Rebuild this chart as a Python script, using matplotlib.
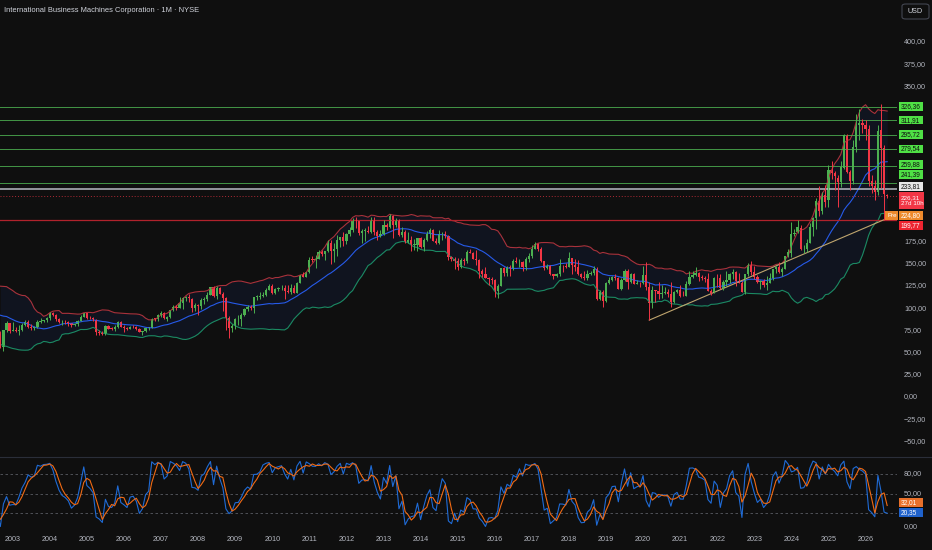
import matplotlib

matplotlib.use("Agg")
import matplotlib.pyplot as plt
from matplotlib.patches import FancyBboxPatch, Rectangle
import numpy as np
import pandas as pd

plt.rcParams["font.family"] = ["Liberation Sans", "DejaVu Sans"]

# IBM monthly bars, Feb 2001 .. Aug 2026 (the first 19 bars are warm-up, left of the view)
opens = [
    112.0, 99.9, 96.2, 115.1, 111.8, 113.0, 104.7, 99.95, 91.7, 108.1, 115.6,
    121.0, 107.9, 98.1, 104.0, 83.8, 80.5, 72.0, 70.4, 75.4, 58.5, 79.2, 87.0,
    78.0, 78.6, 77.8, 78.4, 84.5, 88.3, 82.5, 81.8, 82.4, 88.6, 89.6, 90.7,
    92.9, 99.3, 96.5, 92.0, 88.0, 88.6, 88.0, 87.0, 84.7, 85.7, 89.9, 94.2,
    98.6, 93.6, 92.6, 91.2, 76.5, 75.6, 74.5, 83.5, 80.6, 80.2, 81.9, 88.9,
    82.4, 81.0, 80.2, 82.6, 82.3, 79.9, 76.8, 77.4, 81.0, 81.8, 92.3, 91.9,
    97.2, 99.2, 92.3, 94.3, 102.1, 106.6, 105.3, 110.6, 116.8, 117.9, 116.0, 105.2,
    108.9, 107.1, 113.9, 115.1, 120.7, 129.4, 118.5, 128.0, 121.7, 117.0, 93.0, 81.6,
    84.2, 91.7, 92.0, 96.9, 103.2, 106.3, 104.4, 117.9, 118.1, 119.6, 120.6, 126.4,
    130.9, 122.4, 127.2, 128.3, 129.0, 125.3, 123.5, 128.4, 123.1, 134.1, 143.6, 141.5,
    146.8, 162.0, 161.9, 163.1, 170.6, 168.9, 171.6, 181.9, 171.9, 174.9, 184.6, 188.0,
    183.9, 192.6, 196.7, 208.7, 207.1, 192.9, 195.6, 196.0, 194.9, 207.5, 194.5, 190.1,
    191.6, 203.1, 200.8, 213.3, 202.5, 208.0, 191.1, 195.0, 182.3, 185.2, 179.2, 179.7,
    187.6, 176.7, 185.2, 192.5, 196.5, 184.4, 181.3, 191.7, 192.3, 189.8, 164.4, 162.2,
    160.4, 153.3, 162.0, 160.5, 171.3, 169.7, 162.7, 162.0, 147.9, 145.0, 140.1, 139.4,
    137.6, 124.8, 131.0, 151.5, 145.9, 153.7, 151.8, 160.6, 158.9, 158.9, 153.7, 162.2,
    166.0, 174.5, 179.8, 174.1, 160.3, 152.6, 153.8, 144.7, 143.0, 145.1, 154.1, 154.0,
    153.4, 163.7, 155.8, 153.4, 145.0, 141.3, 139.7, 144.9, 146.5, 151.2, 115.4, 124.3,
    113.7, 134.4, 138.1, 141.1, 140.3, 127.0, 137.9, 148.2, 135.5, 145.4, 133.7, 134.5,
    134.0, 143.7, 130.2, 110.9, 125.6, 124.9, 120.8, 122.9, 123.3, 121.7, 111.7, 123.6,
    125.9, 119.1, 118.9, 133.3, 141.9, 143.7, 146.6, 141.0, 140.3, 138.9, 119.6, 117.1,
    133.7, 133.6, 122.5, 130.0, 132.2, 138.8, 141.2, 130.8, 128.5, 118.8, 138.3, 148.9,
    140.9, 134.7, 129.3, 131.1, 126.4, 128.6, 133.8, 144.2, 146.8, 140.3, 144.6, 158.6,
    162.0, 183.7, 185.5, 190.0, 166.5, 166.5, 173.5, 192.0, 201.9, 220.6, 210.0, 228.0,
    221.8, 255.7, 252.4, 247.0, 242.3, 258.5, 293.9, 253.0, 243.5, 282.0, 307.0, 308.6,
    306.0, 302.0, 243.0, 238.0, 231.0, 301.0, 280.05, 228.0,
]
highs = [
    118.6, 105.5, 117.2, 119.9, 118.0, 115.4, 108.6, 101.6, 111.0, 117.5, 124.7,
    126.4, 108.9, 107.0, 105.0, 86.8, 81.7, 76.5, 81.3, 78.0, 79.4, 89.0, 87.5,
    88.9, 82.0, 84.7, 87.3, 90.4, 90.4, 86.0, 83.3, 91.0, 92.9, 91.2, 93.9,
    100.4, 100.4, 97.5, 93.4, 91.0, 90.3, 89.6, 87.4, 86.7, 90.5, 96.5, 99.1,
    99.1, 94.9, 93.8, 91.8, 78.5, 77.7, 85.1, 85.0, 82.2, 84.3, 89.9, 89.9,
    85.0, 82.0, 84.0, 84.3, 83.7, 81.4, 78.2, 81.5, 82.6, 92.7, 93.2, 97.9,
    100.9, 100.2, 95.8, 102.7, 108.1, 108.0, 117.5, 117.4, 119.6, 121.5, 116.4, 111.0,
    109.0, 116.5, 118.3, 124.0, 130.0, 130.9, 130.9, 130.0, 124.0, 117.5, 96.0, 86.0,
    92.7, 96.4, 99.0, 104.4, 108.7, 108.0, 118.0, 120.0, 124.0, 124.3, 128.9, 132.9,
    132.9, 128.2, 130.0, 132.0, 132.5, 132.0, 132.9, 132.2, 135.9, 144.0, 147.5, 147.5,
    164.4, 166.3, 167.7, 173.5, 172.9, 172.0, 185.6, 185.3, 181.3, 190.5, 189.0, 194.9,
    193.0, 200.0, 210.7, 211.8, 208.0, 197.5, 199.7, 201.5, 211.8, 211.8, 196.3, 196.8,
    208.6, 205.2, 215.9, 214.9, 210.4, 210.2, 200.0, 196.3, 194.8, 190.0, 185.8, 187.9,
    188.8, 186.8, 195.6, 199.2, 198.4, 187.6, 196.4, 194.9, 196.2, 190.9, 166.0, 164.5,
    163.3, 163.6, 164.0, 173.8, 174.4, 171.1, 173.2, 162.6, 150.6, 152.9, 142.0, 141.4,
    139.0, 133.4, 152.0, 152.9, 154.0, 155.5, 162.9, 164.9, 162.8, 160.5, 164.4, 169.9,
    178.9, 182.8, 181.9, 176.3, 160.5, 157.2, 156.0, 145.0, 146.7, 162.5, 155.6, 158.5,
    171.1, 164.0, 162.1, 162.0, 146.1, 149.0, 149.3, 148.0, 154.4, 153.4, 125.5, 125.7,
    135.0, 140.9, 143.1, 145.4, 141.0, 139.9, 151.3, 151.0, 146.4, 146.0, 138.0, 135.8,
    154.9, 158.7, 136.0, 131.0, 126.6, 135.9, 132.2, 129.9, 127.0, 135.9, 125.3, 127.0,
    132.2, 124.5, 137.1, 148.7, 148.5, 152.8, 147.5, 143.4, 142.2, 146.0, 121.9, 134.9,
    138.8, 138.7, 131.5, 141.9, 139.8, 144.7, 141.9, 139.3, 130.9, 138.9, 150.5, 153.2,
    147.2, 137.4, 131.5, 132.5, 136.2, 139.5, 144.5, 147.7, 151.9, 146.1, 158.6, 166.3,
    196.9, 188.9, 199.2, 193.3, 171.1, 178.5, 196.3, 202.8, 224.1, 237.4, 230.4, 239.4,
    261.8, 265.7, 255.0, 250.4, 266.0, 296.2, 296.1, 256.0, 289.0, 319.4, 324.9, 313.0,
    312.0, 306.0, 250.0, 244.0, 306.0, 330.2, 284.0, 229.0,
]
lows = [
    99.0, 85.3, 90.6, 108.6, 104.0, 100.8, 99.4, 87.5, 90.8, 105.9, 113.0,
    99.4, 94.8, 96.3, 81.6, 76.7, 66.0, 62.4, 66.9, 58.1, 54.0, 76.2, 75.0,
    77.7, 76.4, 73.2, 78.1, 83.2, 81.0, 78.9, 78.6, 81.5, 86.8, 88.3, 88.6,
    90.8, 95.0, 90.0, 86.8, 85.1, 86.6, 83.4, 81.9, 83.4, 83.7, 89.0, 94.1,
    92.3, 91.6, 89.6, 72.5, 73.5, 73.5, 73.5, 79.9, 78.7, 78.2, 81.6, 81.9,
    76.8, 79.0, 79.8, 81.5, 79.4, 76.0, 72.7, 76.9, 79.5, 81.4, 89.1, 90.0,
    94.6, 92.3, 89.5, 93.6, 101.5, 102.5, 104.9, 104.2, 113.1, 112.0, 99.6, 101.7,
    97.0, 103.2, 109.6, 113.0, 120.5, 117.9, 114.9, 121.0, 101.6, 79.0, 69.5, 76.2,
    80.5, 85.0, 83.8, 95.3, 101.0, 102.9, 99.5, 114.5, 115.0, 118.0, 119.6, 126.0,
    121.1, 121.2, 125.3, 125.8, 116.0, 123.1, 121.5, 122.9, 123.0, 133.8, 141.0, 141.5,
    146.6, 159.0, 151.7, 162.7, 166.2, 161.9, 171.0, 157.1, 158.9, 166.7, 177.1, 177.9,
    180.0, 189.5, 195.0, 199.0, 190.9, 181.9, 184.0, 193.0, 193.8, 190.6, 184.8, 188.0,
    190.4, 196.4, 199.4, 187.7, 199.9, 189.7, 189.0, 181.3, 181.1, 172.6, 172.7, 172.0,
    175.6, 172.2, 183.3, 187.9, 183.6, 179.8, 180.0, 185.3, 187.9, 161.1, 160.4, 150.5,
    149.5, 151.6, 155.3, 158.0, 169.2, 162.1, 155.9, 140.6, 142.0, 139.9, 131.7, 133.5,
    118.0, 116.9, 130.4, 142.5, 142.6, 142.8, 149.6, 157.8, 153.0, 148.0, 150.0, 158.7,
    164.0, 174.5, 171.5, 159.6, 150.2, 150.8, 143.6, 139.1, 141.5, 143.0, 146.9, 151.7,
    153.3, 144.4, 148.5, 144.3, 139.9, 137.5, 137.5, 143.6, 143.3, 114.1, 114.5, 105.9,
    111.7, 133.4, 137.0, 137.5, 126.8, 126.4, 137.0, 127.2, 134.5, 132.6, 133.3, 129.9,
    133.0, 126.6, 90.6, 104.5, 111.8, 115.6, 116.9, 121.3, 118.0, 105.9, 111.2, 122.0,
    118.0, 118.5, 118.8, 131.7, 140.3, 143.0, 136.2, 138.4, 135.9, 124.6, 114.6, 116.9,
    124.2, 121.7, 120.7, 124.9, 128.4, 132.9, 125.1, 128.4, 118.6, 115.5, 136.0, 137.2,
    132.9, 128.9, 121.7, 124.0, 120.6, 128.0, 131.5, 139.2, 139.6, 135.9, 144.5, 158.0,
    157.9, 180.9, 185.2, 165.3, 162.6, 163.5, 173.2, 181.8, 189.8, 204.0, 206.6, 214.6,
    214.6, 245.3, 233.0, 214.5, 237.0, 257.0, 251.9, 233.4, 240.0, 276.0, 290.0, 298.0,
    289.0, 238.0, 230.0, 222.0, 228.0, 236.0, 199.77, 224.5,
]
closes = [
    99.9, 96.2, 115.1, 111.8, 113.0, 104.7, 99.95, 91.7, 108.1, 115.6, 121.0,
    107.9, 98.1, 104.0, 83.8, 80.5, 72.0, 70.4, 75.4, 58.3, 78.9, 86.9, 77.5,
    78.2, 78.0, 78.4, 84.9, 88.0, 82.5, 81.2, 82.0, 88.3, 89.5, 90.5, 92.7,
    99.2, 96.5, 91.8, 88.2, 88.6, 88.2, 87.1, 84.7, 85.7, 89.8, 94.2, 98.6,
    93.4, 92.6, 91.4, 76.4, 75.6, 74.2, 83.5, 80.6, 80.2, 81.9, 88.9, 82.2,
    81.3, 80.2, 82.5, 82.3, 79.9, 76.8, 77.4, 81.0, 81.9, 92.3, 91.9, 97.2,
    99.2, 93.0, 94.3, 102.2, 106.6, 105.3, 110.7, 116.7, 117.8, 116.1, 105.2, 108.1,
    107.1, 113.9, 115.1, 120.7, 129.4, 118.5, 128.0, 121.7, 117.0, 93.0, 81.6, 84.2,
    91.7, 92.0, 96.9, 103.2, 106.3, 104.4, 117.9, 118.1, 119.6, 120.6, 126.4, 130.9,
    122.4, 127.2, 128.3, 129.0, 125.3, 123.5, 128.4, 123.1, 134.1, 143.6, 141.5, 146.8,
    162.0, 161.9, 163.1, 170.6, 168.9, 171.6, 181.9, 171.9, 174.9, 184.6, 188.0, 183.9,
    192.6, 196.7, 208.7, 207.1, 192.9, 195.6, 196.0, 194.9, 207.5, 194.5, 190.1, 191.6,
    203.1, 200.8, 213.3, 202.5, 208.0, 191.1, 195.0, 182.3, 185.2, 179.2, 179.7, 187.6,
    176.7, 185.2, 192.5, 196.5, 184.4, 181.3, 191.7, 192.3, 189.8, 164.4, 162.2, 160.4,
    153.3, 162.0, 160.5, 171.3, 169.7, 162.7, 162.0, 147.9, 145.0, 140.1, 139.4, 137.6,
    124.8, 131.0, 151.5, 145.9, 153.7, 151.8, 160.6, 158.9, 158.9, 153.7, 162.2, 166.0,
    174.5, 179.8, 174.1, 160.3, 152.6, 153.8, 144.7, 143.0, 145.1, 154.1, 154.0, 153.4,
    163.7, 155.8, 153.4, 145.0, 141.3, 139.7, 144.9, 146.5, 151.2, 115.4, 124.3, 113.7,
    134.4, 138.1, 141.1, 140.3, 127.0, 137.9, 148.2, 135.5, 145.4, 133.7, 134.5, 134.0,
    143.7, 130.2, 110.9, 125.6, 124.9, 120.8, 122.9, 123.3, 121.7, 111.7, 123.6, 125.9,
    119.1, 118.9, 133.3, 141.9, 143.7, 146.6, 141.0, 140.3, 138.9, 125.1, 117.1, 133.7,
    133.6, 122.5, 130.0, 132.2, 138.8, 141.2, 130.8, 128.5, 118.8, 138.3, 148.9, 140.9,
    134.7, 129.3, 131.1, 126.4, 128.6, 133.8, 144.2, 146.8, 140.3, 144.6, 158.6, 163.6,
    183.7, 185.0, 191.0, 166.2, 166.9, 173.0, 191.0, 202.1, 221.1, 209.0, 227.4, 219.8,
    255.7, 252.4, 248.7, 241.8, 259.1, 294.8, 253.2, 243.5, 282.2, 307.4, 308.6, 306.0,
    302.0, 243.0, 238.0, 231.0, 300.0, 280.05, 228.5, 226.31,
]

# bars before the Kyndryl spin-off (Nov 2021) are shown adjusted, as on the chart
SPINOFF_BAR = 249
SPINOFF_FACTOR = 0.956
FIRST_JAN_BAR = 23  # Jan 2003
years = list(range(2003, 2027))

green_levels = [326.36, 311.91, 295.72, 279.54, 259.88, 241.39]
gray_level = 233.81
pre_price = 224.80
red_level = 199.77
countdown = "27d 10h"
title = "International Business Machines Corporation \u00b7 1M \u00b7 NYSE"

# layout (pixels)
W, H = 932, 550
PLOT_RIGHT = 897
BAR_PX = 3.09
green_nudges = [-0.8, 0, 0, 0, -2, -8]
gray_nudge, last_nudge, pre_nudge, red_nudge = -3, 0.5, 18, 5.6
k_nudge, d_nudge = -0.7, -3
FS = 5.2
BOX_FS = 4.7

BG = "#0f0f0f"
UP, DOWN = "#4caf50", "#f23645"
TXT = "#b2b5be"


def fmt(v):
    s = f"{abs(v):.2f}".replace(".", ",")
    return ("\u2212" + s) if v < 0 else s


o = np.array(opens, float)
h = np.array(highs, float)
lo = np.array(lows, float)
c = np.array(closes, float)
adj = np.where(np.arange(len(c)) < SPINOFF_BAR, SPINOFF_FACTOR, 1.0)
o, h, lo, c = o * adj, h * adj, lo * adj, c * adj
x = np.arange(len(c))
last_price = c[-1]

# Bollinger (20, 2) and Stochastic (14, 1, 3) from the bars
close_s = pd.Series(c)
basis = close_s.rolling(20).mean()
dev = close_s.rolling(20).std(ddof=0)
upper, lower = basis + 2 * dev, basis - 2 * dev
hh = pd.Series(h).rolling(14).max()
ll = pd.Series(lo).rolling(14).min()
k = 100 * (close_s - ll) / (hh - ll)
d = k.rolling(3).mean()

fig = plt.figure(figsize=(W / 100, H / 100), dpi=100, facecolor=BG)
x0 = FIRST_JAN_BAR - 12.7 / BAR_PX
x1 = x0 + PLOT_RIGHT / BAR_PX

ax = fig.add_axes([0, 1 - 456 / H, PLOT_RIGHT / W, 456 / H], facecolor=BG)
ax.set_xlim(x0, x1)
ax.set_ylim(-66.5, 447.3)

ax.fill_between(x, lower, upper, color="#2962ff", alpha=0.07, lw=0)
ax.plot(x, upper, color="#a8323c", lw=0.8)
ax.plot(x, lower, color="#1b8a62", lw=0.8)
ax.plot(x, basis, color="#2962ff", lw=0.8, alpha=0.9)

for lvl in green_levels:
    ax.axhline(lvl, color="#4caf50", lw=0.7, alpha=0.85)
ax.axhline(gray_level, color="#b8bbc4", lw=1.1)
ax.axhline(last_price, color="#f23645", lw=0.7, ls=(0, (1, 2)), alpha=0.7)
ax.axhline(red_level, color="#b0222c", lw=0.9)

trend_idx = [229, len(c) - 2]
ax.plot(trend_idx, lo[trend_idx], color="#bfa56e", lw=0.8)

cols = np.where(c >= o, UP, DOWN)
ax.vlines(x, lo, h, colors=cols, lw=0.7)
body = np.maximum(np.abs(c - o), 0.6)
ax.bar(x, body, bottom=np.minimum(o, c), width=0.72, color=cols, lw=0)

ax2 = fig.add_axes([0, 1 - 533 / H, PLOT_RIGHT / W, 76 / H], facecolor=BG)
ax2.set_xlim(x0, x1)
ax2.set_ylim(-9.5, 105.2)
for lvl in (80, 50, 20):
    ax2.axhline(lvl, color="#787b86", lw=0.6, ls=(0, (3, 3)), alpha=0.7)
ax2.plot(x, k, color="#1f6bd6", lw=0.8)
ax2.plot(x, d, color="#f06a14", lw=0.8)

jan_idx = [FIRST_JAN_BAR + 12 * i for i in range(len(years))]
ax2.set_xticks(jan_idx)
ax2.set_xticklabels([str(y) for y in years])
ax2.tick_params(axis="x", length=0, pad=2.0, labelsize=FS, labelcolor=TXT)
for a in (ax, ax2):
    a.set_yticks([])
    for sp in a.spines.values():
        sp.set_visible(False)
ax.set_xticks([])

# pane separator
fig.add_artist(plt.Line2D([0, 1], [1 - 457 / H, 1 - 457 / H], color="#2a2e39", lw=0.8,
                          transform=fig.transFigure))

fig.text(4 / W, 1 - 11 / H, title, color="#d1d4dc", fontsize=5.4, va="center", ha="left")
fig.patches.append(FancyBboxPatch((902 / W, 1 - 19 / H), 27 / W, 15 / H,
                                  boxstyle="round,pad=0,rounding_size=0.004",
                                  transform=fig.transFigure, fc="none", ec="#434651", lw=0.8))
fig.text(915.5 / W, 1 - 11.2 / H, "USD", color="#d1d4dc", fontsize=FS, va="center", ha="center")


def py(axis, v):
    return H - axis.transData.transform((0, v))[1]


boxes = []  # (y centre, text, face, text colour, x left, width, height, font size)
for lvl, nud in zip(green_levels, green_nudges):
    boxes.append((py(ax, lvl) + nud, fmt(lvl), "#4fe045", "#0f0f0f", 899, 24, 8.6, BOX_FS))
boxes.append((py(ax, gray_level) + gray_nudge, fmt(gray_level), "#e6e6e6", "#0f0f0f",
              899, 24, 8.6, BOX_FS))
yl = py(ax, last_price) + last_nudge
boxes.append((yl + 3.8, fmt(last_price) + "\n" + countdown, "#f23645", "white",
              899, 25, 17, 4.5))
yp = py(ax, pre_price) + pre_nudge
boxes.append((yp, fmt(pre_price), "#ee8a2c", "white", 899, 24, 8.6, BOX_FS))
boxes.append((yp, "Pre", "#ee8a2c", "white", 885, 13, 8.6, 4.4))
boxes.append((py(ax, red_level) + red_nudge, fmt(red_level), "#ee2430", "white",
              899, 24, 8.6, BOX_FS))
boxes.append((py(ax2, d.iloc[-1]) + d_nudge, fmt(d.iloc[-1]), "#e8702a", "white",
              899, 24, 8.6, BOX_FS))
boxes.append((py(ax2, k.iloc[-1]) + k_nudge, fmt(k.iloc[-1]), "#1f62cc", "white",
              899, 24, 8.6, BOX_FS))

for yc, text, fc, tc, xl, wd, ht, fs in boxes:
    fig.patches.append(Rectangle((xl / W, 1 - (yc + ht / 2) / H), wd / W, ht / H,
                                 transform=fig.transFigure, fc=fc, ec="none", zorder=4))
    fig.text((xl + 2.0) / W, 1 - yc / H, text, color=tc, fontsize=fs,
             va="center", ha="left", zorder=5, linespacing=1.25)


def free(yc):
    return all(abs(yc - b[0]) > b[6] / 2 + 3 for b in boxes if b[4] >= 899)


for axis, ticks in ((ax, range(-50, 401, 25)), (ax2, (80, 50, 0))):
    for p in ticks:
        yc = py(axis, p)
        if free(yc):
            fig.text(904 / W, 1 - yc / H, fmt(p), color=TXT, fontsize=FS,
                     va="center", ha="left", zorder=2)

fig.savefig("out.png", dpi=100, facecolor=BG)
